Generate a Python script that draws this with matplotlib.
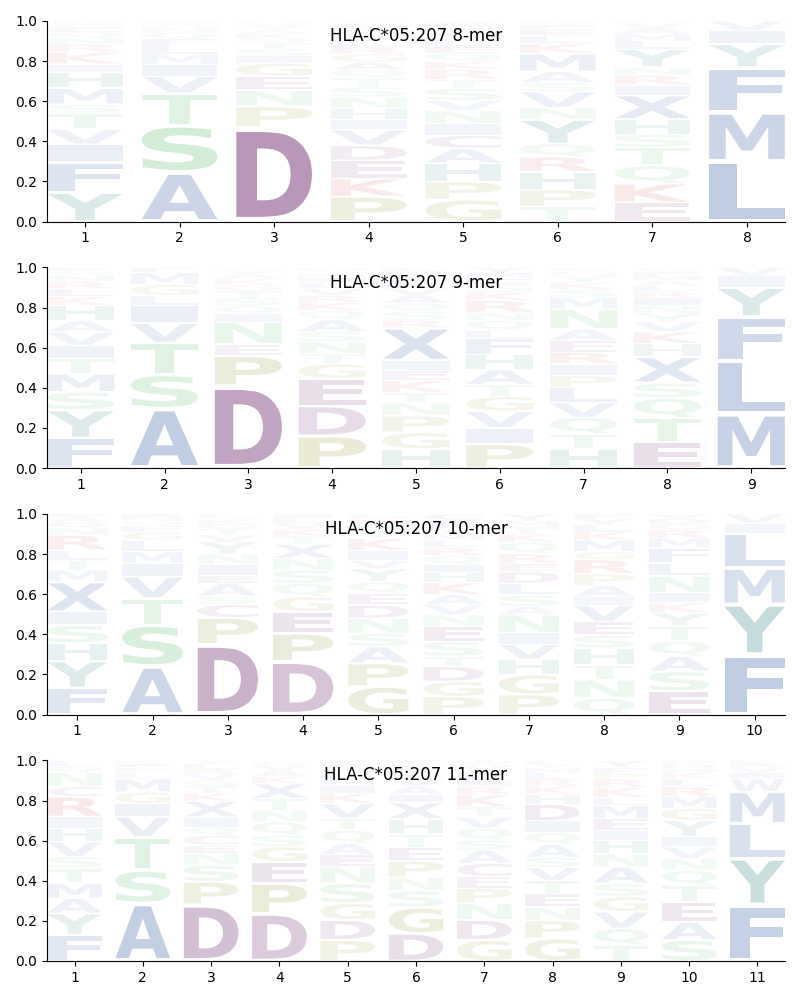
import numpy as np
import matplotlib
matplotlib.use('Agg')
import matplotlib.pyplot as plt
from matplotlib.textpath import TextPath
from matplotlib.patches import PathPatch
from matplotlib.font_manager import FontProperties
from matplotlib.transforms import Affine2D

allele = 'HLA-C*05:207'

# letters per position, bottom to top, with their heights
letters_8 = ['YFIVTSMHIKRNQEGW', 'ASTVIMLFQNGE', 'DPNEGISTQKAYVH', 'PKEDVIHNSTQAGRLYFMC',
             'GPHACINVSTRKQELMYFW', 'TPHRQYNVSAMKLEFG', 'EKQTSHXIRNYLMAVF', 'LMFYIV']
heights_8 = [[.145, .15, .09, .075, .08, .045, .08, .08, .04, .06, .04, .03, .03, .02, .02, .015],
             [.245, .235, .16, .085, .06, .05, .04, .035, .03, .025, .02, .015],
             [.47, .105, .08, .07, .065, .035, .035, .03, .025, .02, .02, .02, .015, .02],
             [.125, .09, .09, .075, .078, .05, .055, .058, .05, .045, .04, .04, .04, .035, .03, .03, .025, .02, .015],
             [.11, .09, .09, .075, .065, .058, .066, .05, .06, .045, .05, .04, .04, .035, .035, .03, .03, .021, .01],
             [.075, .085, .088, .075, .065, .12, .06, .08, .045, .055, .09, .05, .04, .03, .025, .017],
             [.095, .095, .09, .09, .065, .075, .12, .05, .05, .04, .09, .04, .035, .03, .025, .01],
             [.30, .245, .224, .116, .066, .049]]

letters_9 = ['FYSMTIVAHKLRNQE', 'ASTVILGMF', 'DPENIQSTGKAVY', 'PDEGTNSAQKRVLIMYH',
             'HGPNTKEIXRSQAVLYDF', 'PIVGTAHFLQNRKSEMY', 'HTQVLPIREANMSKYGF',
             'ETQSXHKVYNIRLAMFG', 'MLFYIV']
heights_9 = [[.15, .14, .09, .09, .075, .066, .066, .058, .075, .045, .04, .035, .03, .02, .02],
             [.297, .17, .158, .1, .086, .05, .055, .058, .026],
             [.41, .15, .058, .11, .04, .04, .04, .035, .03, .03, .025, .022, .01],
             [.16, .15, .135, .075, .05, .06, .05, .06, .045, .04, .035, .035, .03, .025, .02, .015, .015],
             [.095, .083, .083, .066, .05, .06, .05, .05, .16, .04, .045, .04, .04, .035, .035, .03, .025, .013],
             [.12, .08, .083, .075, .058, .075, .075, .08, .04, .05, .04, .06, .04, .04, .03, .03, .024],
             [.095, .075, .083, .075, .075, .058, .058, .058, .058, .058, .1, .058, .04, .035, .03, .025, .019],
             [.13, .12, .1, .075, .13, .066, .058, .05, .04, .04, .04, .03, .03, .025, .025, .02, .021],
             [.27, .265, .22, .145, .058, .043]]

letters_10 = ['FYHSIXMTLRNQAE', 'ASTVIMLGFQNE', 'DPCSAEINYVTGKQL', 'DPEGQSNXTKVLI',
              'GPASNDEQYVIKTHRML', 'PGDTSENVAKHIQRLMYFWC', 'PGHVINASLDERQKTMY',
              'QNTHSEVIAPRGMKLYF', 'ESAQTYKINLFMRGDV', 'FYMLIV']
heights_10 = [[.133, .133, .09, .09, .066, .15, .058, .05, .05, .075, .035, .03, .025, .015],
              [.24, .207, .133, .108, .066, .058, .058, .04, .03, .025, .02, .015],
              [.35, .133, .066, .04, .066, .04, .055, .05, .06, .035, .03, .025, .02, .017, .013],
              [.265, .14, .108, .075, .066, .066, .058, .072, .04, .035, .03, .025, .02],
              [.14, .116, .083, .066, .075, .066, .058, .058, .066, .04, .05, .06, .04, .03, .025, .015, .012],
              [.09, .075, .075, .05, .075, .075, .058, .05, .05, .06, .05, .04, .045, .04, .035, .03, .025, .027, .02, .03],
              [.1, .1, .075, .075, .058, .09, .04, .058, .058, .058, .04, .05, .058, .04, .035, .03, .035],
              [.083, .09, .075, .083, .066, .066, .083, .04, .058, .058, .07, .04, .058, .04, .035, .03, .025],
              [.116, .1, .075, .075, .075, .066, .05, .05, .083, .066, .075, .05, .04, .03, .025, .024],
              [.298, .252, .18, .174, .05, .046]]

letters_11 = ['FYAMTSVHIRCNQL', 'ASTVIGMLFEK', 'DPSNECQIXKTGVRLY', 'DPEGSQNTXKAVRI',
              'PDGSNEAQTVKIHLRMY', 'DGSNPETHXIAVLRKQ', 'GDNPECASQVTKRILMYHW',
              'GPNETVSAQIDHKRLMYF', 'TQVGSANHIEMLKRPFY', 'SAETQNVIYGMRLKHDP', 'FYLMWIVRK']
heights_11 = [[.13, .108, .075, .075, .075, .058, .075, .066, .058, .1, .05, .07, .03, .03],
              [.287, .166, .166, .1, .066, .058, .066, .03, .025, .02, .016],
              [.28, .116, .083, .058, .04, .05, .04, .05, .08, .04, .035, .03, .03, .025, .025, .018],
              [.237, .15, .108, .075, .058, .066, .058, .058, .075, .035, .03, .025, .015, .01],
              [.105, .1, .083, .1, .083, .058, .058, .066, .058, .075, .05, .04, .03, .03, .025, .02, .019],
              [.138, .13, .083, .066, .083, .066, .066, .075, .083, .04, .04, .035, .03, .025, .02, .02],
              [.105, .1, .083, .075, .058, .066, .066, .05, .058, .058, .05, .06, .04, .03, .03, .02, .02, .011, .02],
              [.113, .09, .066, .066, .066, .066, .05, .066, .058, .058, .083, .05, .04, .035, .03, .025, .02, .018],
              [.08, .083, .083, .075, .066, .083, .066, .066, .05, .058, .066, .04, .05, .04, .03, .03, .034],
              [.105, .09, .1, .083, .075, .058, .058, .05, .083, .058, .06, .05, .04, .03, .02, .02, .02],
              [.28, .232, .174, .158, .066, .03, .025, .02, .015]]

titles = ['8-mer', '9-mer', '10-mer', '11-mer']

blue = (35/255, 80/255, 155/255)
green = (63/255, 178/255, 82/255)
purple = (97/255, 22/255, 97/255)
red = (200/255, 30/255, 30/255)
olive = (123/255, 123/255, 0)
teal = (15/255, 115/255, 107/255)
colors = {}
for c in 'AVLIMFWX':
    colors[c] = blue
for c in 'STNQ':
    colors[c] = green
for c in 'DEC':
    colors[c] = purple
for c in 'KR':
    colors[c] = red
for c in 'PG':
    colors[c] = olive
for c in 'YH':
    colors[c] = teal

font = FontProperties(family='DejaVu Sans', weight='bold')
glyphs = {}


def draw_letter(ax, ch, x, y, w, h):
    if ch not in glyphs:
        glyphs[ch] = TextPath((0, 0), ch, size=1, prop=font)
    path = glyphs[ch]
    ext = path.get_extents()
    pad = 0.05 * h
    hh = h - 2 * pad
    tr = Affine2D().translate(-ext.x0, -ext.y0).scale(w / ext.width, hh / ext.height) \
        .translate(x - w / 2, y + pad)
    alpha = min(1.0, 0.01 + 0.92 * h)
    patch = PathPatch(tr.transform_path(path), facecolor=colors[ch], edgecolor='none',
                      alpha=alpha, zorder=1)
    ax.add_patch(patch)


fig, axes = plt.subplots(4, 1, figsize=(8, 10), dpi=100)
fig.subplots_adjust(left=0.059, right=0.981, top=0.979, bottom=0.039, hspace=0.229)

data = [(letters_8, heights_8), (letters_9, heights_9),
        (letters_10, heights_10), (letters_11, heights_11)]

for ax, (lets, hts), t in zip(axes, data, titles):
    n = len(lets)
    for i in range(n):
        y = 0
        for ch, h in zip(lets[i], hts[i]):
            draw_letter(ax, ch, i + 1, y, 0.8, h)
            y += h
    ax.set_xlim(0.6, n + 0.4)
    ax.set_ylim(0, 1)
    ax.set_xticks(range(1, n + 1))
    ax.spines['top'].set_visible(False)
    ax.spines['right'].set_visible(False)
    ax.text(0.5, 0.925, allele + ' ' + t, transform=ax.transAxes, ha='center',
            va='center', fontsize=12, zorder=5)

fig.savefig('out.png')
